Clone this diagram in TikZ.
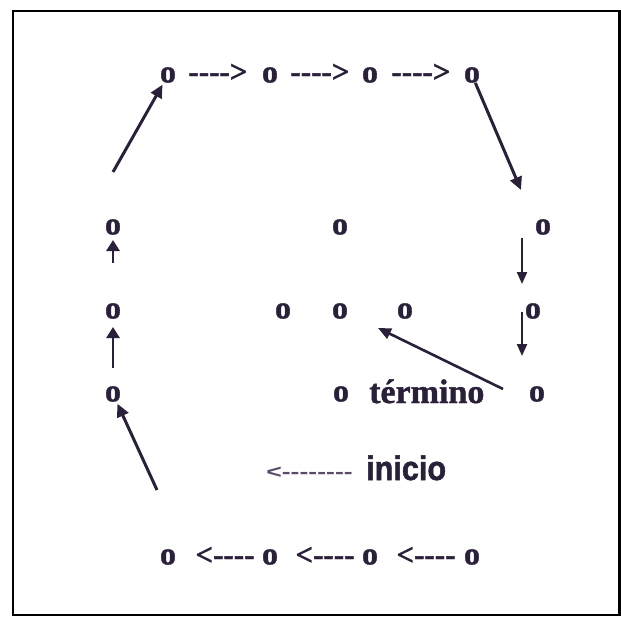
\documentclass[tikz,border=0pt]{standalone}
\usepackage{fontspec}
\setmainfont{Liberation Serif}[Ligatures=TeXOff]
\newfontfamily\heavyserif{Liberation Serif}[UprightFont={* Bold},UprightFeatures={FakeBold=1.2},Ligatures=TeXOff]
\newfontfamily\heavysans{Liberation Sans}[UprightFont={* Bold},UprightFeatures={FakeBold=1.6},Ligatures=TeXOff]
\newfontfamily\inisans{Liberation Sans}[UprightFont={* Bold},Ligatures=TeXOff]
\usetikzlibrary{arrows.meta}
\definecolor{ink}{RGB}{42,32,58}
\definecolor{grayink}{RGB}{90,75,105}
\begin{document}
\begin{tikzpicture}[x=1pt,y=-1pt,
  dot/.style={inner sep=0pt,text=ink,font=\heavyserif\fontsize{32}{34}\selectfont},
  dsh/.style={inner sep=0pt,text=ink,font=\heavyserif\fontsize{31}{33}\selectfont},
  arr/.style={draw=ink,line width=3pt,-{Triangle[length=13pt,width=12pt]},shorten >=2pt},
  thin arr/.style={draw=ink,line width=2.2pt,-{Triangle[length=12pt,width=10pt]}},
  short arr/.style={draw=ink,line width=2.8pt,-{Triangle[length=11pt,width=13pt]}}]
\useasboundingbox (0,0) rectangle (621,618);
\fill[white] (0,0) rectangle (621,618);
\draw[black,line width=2.8pt] (13,11) rectangle (619.5,615);
% top row
\node[dot] (t1) at (168,75) {o};
\node[dot] (t2) at (270,75) {o};
\node[dot] (t3) at (370,75) {o};
\node[dot] (t4) at (472,75) {o};
\node[dsh] (d1) at (218,73) {---->};
\node[dsh] (d2) at (320,73) {---->};
\node[dsh] (d3) at (421,73) {---->};
% bottom row
\node[dot] (b1) at (168,557) {o};
\node[dot] (b2) at (270,557) {o};
\node[dot] (b3) at (370,557) {o};
\node[dot] (b4) at (472,557) {o};
\node[dsh] (e1) at (225,556) {<----};
\node[dsh] (e2) at (325,556) {<----};
\node[dsh] (e3) at (426,556) {<----};
% left column
\node[dot] (l1) at (113,227) {o};
\node[dot] (l2) at (113,311) {o};
\node[dot] (l3) at (113,394) {o};
% right column
\node[dot] (r1) at (543,227) {o};
\node[dot] (r2) at (533,311) {o};
\node[dot] (r3) at (537,394) {o};
% middle
\node[dot] (m1) at (340,227) {o};
\node[dot] (m2) at (283,311) {o};
\node[dot] (m3) at (340,311) {o};
\node[dot] (m4) at (405,311) {o};
\node[dot] (m5) at (341,394) {o};
\node[inner sep=0pt,text=ink,font=\heavyserif\fontsize{34}{36}\selectfont,anchor=base west] (term) at (369,403) {término};
% inicio
\node[inner sep=0pt,text=grayink,font=\inisans\fontsize{19}{20}\selectfont,anchor=east,xscale=1.4] (lt) at (353,473) {<--------};
\node[inner sep=0pt,text=ink,font=\heavysans\fontsize{34}{36}\selectfont,anchor=base west,xscale=0.9] (ini) at (366,480) {inicio};
% coordinates for free ends
\coordinate (c1) at (113,172);
\coordinate (c2) at (521,190);
\coordinate (c3) at (157,490);
\coordinate (c4a) at (522,238);
\coordinate (c4b) at (522,284);
\coordinate (c5a) at (522,312);
\coordinate (c5b) at (522,356);
\coordinate (c6a) at (503,389);
\coordinate (c6b) at (378,328);
\coordinate (c7a) at (113,263);
\coordinate (c7b) at (113,240);
\coordinate (c8a) at (113,368);
\coordinate (c8b) at (113,327);
% connectors
\draw[arr] (c1) -- (t1);
\draw[arr,shorten >=0pt] (t4) -- (c2);
\draw[arr] (c3) -- (l3);
\draw[thin arr] (c4a) -- (c4b);
\draw[thin arr] (c5a) -- (c5b);
\draw[draw=ink,line width=2.6pt,-{Triangle[length=13pt,width=11pt]}] (c6a) -- (c6b);
\draw[short arr] (c7a) -- (c7b);
\draw[short arr] (c8a) -- (c8b);
\end{tikzpicture}
\end{document}
